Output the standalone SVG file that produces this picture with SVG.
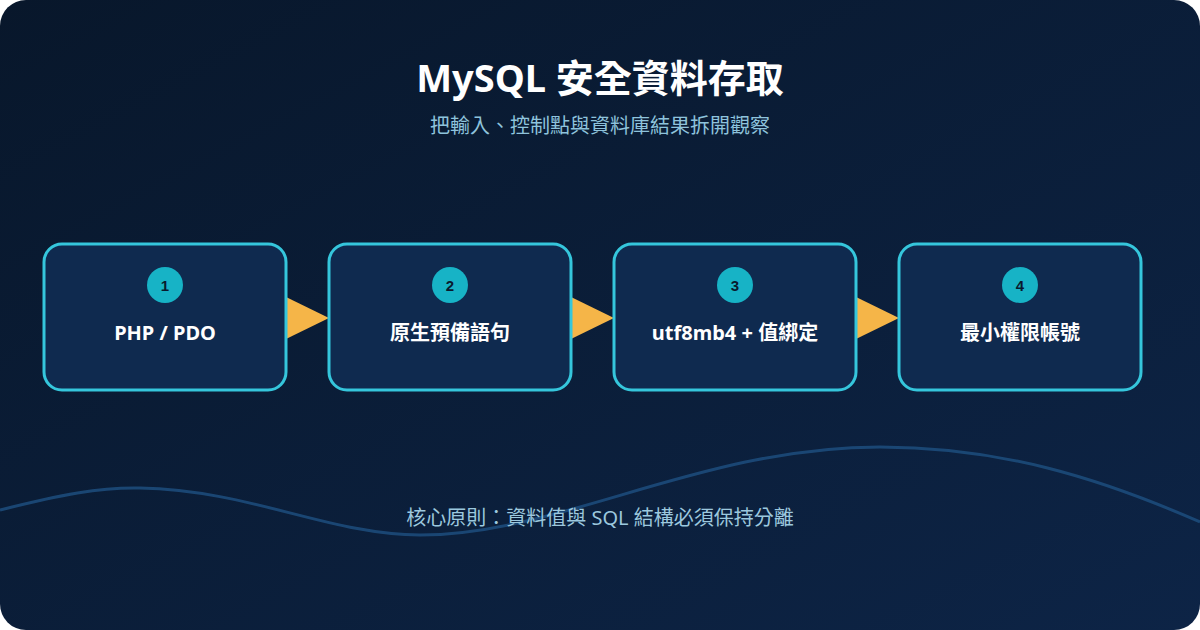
<svg xmlns="http://www.w3.org/2000/svg" width="1200" height="630" viewBox="0 0 1200 630">
<defs>
<linearGradient id="bg" x1="0" y1="0" x2="1" y2="1">
<stop offset="0" stop-color="#08172b"/>
<stop offset="1" stop-color="#0d2446"/>
</linearGradient>
<style>
.box{fill:#0f2a4f;stroke:#35c6dc;stroke-width:3}
.badge{fill:#17b3c6}
.num{font-family:"Liberation Sans",Arial,sans-serif;font-size:15px;font-weight:bold;fill:#0a1a2e;text-anchor:middle}
.lbl{font-family:"Noto Sans","Noto Sans CJK TC",sans-serif;font-size:20px;font-weight:bold;fill:#ffffff;text-anchor:middle}
.arrow{fill:#f5b548}
</style>
</defs>
<rect x="0" y="0" width="1200" height="630" fill="#ffffff"/>
<rect x="0" y="0" width="1200" height="630" rx="26" fill="url(#bg)"/>
<path d="M0,510 C60,495 100,487 140,488 C250,490 330,535 420,535 C560,535 700,447 880,447 C1000,447 1100,478 1200,522" fill="none" stroke="#1d4d7e" stroke-width="3" opacity="0.85"/>
<text x="600" y="92" font-family="'Noto Sans','Noto Sans CJK TC',sans-serif" font-size="38" font-weight="bold" fill="#ffffff" text-anchor="middle">MySQL 安全資料存取</text>
<text x="600" y="133" font-family="'Noto Sans','Noto Sans CJK TC',sans-serif" font-size="20" fill="#8ec3dc" text-anchor="middle">把輸入、控制點與資料庫結果拆開觀察</text>
<g id="connectors">
<polygon class="arrow" points="286,297 329,318 286,339"/>
<polygon class="arrow" points="571,297 614,318 571,339"/>
<polygon class="arrow" points="856,297 899,318 856,339"/>
</g>
<g id="node1">
<rect class="box" x="44" y="244" width="242" height="146" rx="18"/>
<circle class="badge" cx="165" cy="285" r="18"/>
<text class="num" x="165" y="290.5">1</text>
<text class="lbl" x="165" y="340">PHP / PDO</text>
</g>
<g id="node2">
<rect class="box" x="329" y="244" width="242" height="146" rx="18"/>
<circle class="badge" cx="450" cy="285" r="18"/>
<text class="num" x="450" y="290.5">2</text>
<text class="lbl" x="450" y="340">原生預備語句</text>
</g>
<g id="node3">
<rect class="box" x="614" y="244" width="242" height="146" rx="18"/>
<circle class="badge" cx="735" cy="285" r="18"/>
<text class="num" x="735" y="290.5">3</text>
<text class="lbl" x="735" y="340">utf8mb4 + 值綁定</text>
</g>
<g id="node4">
<rect class="box" x="899" y="244" width="242" height="146" rx="18"/>
<circle class="badge" cx="1020" cy="285" r="18"/>
<text class="num" x="1020" y="290.5">4</text>
<text class="lbl" x="1020" y="340">最小權限帳號</text>
</g>
<text x="600" y="525" font-family="'Noto Sans','Noto Sans CJK TC',sans-serif" font-size="20" fill="#9cc8de" text-anchor="middle">核心原則：資料值與 SQL 結構必須保持分離</text>
</svg>
